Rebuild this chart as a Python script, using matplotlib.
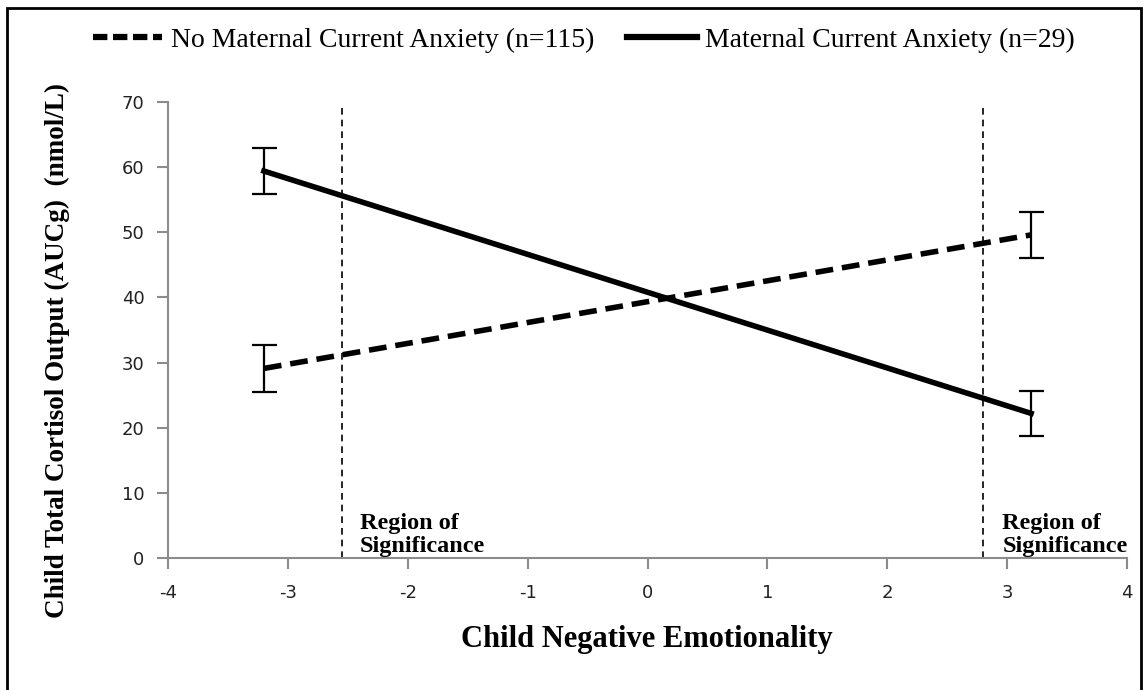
import numpy as np
import matplotlib
matplotlib.use("Agg")
import matplotlib.pyplot as plt
from matplotlib.lines import Line2D
from matplotlib.patches import Rectangle

# values
x_levels = [-3.2, 3.2]
no_anx = [29.1, 49.6]
no_anx_err = [3.6, 3.5]
anx = [59.4, 22.2]
anx_err = [3.5, 3.5]
region_bounds = [-2.55, 2.8]
xticks = [-4, -3, -2, -1, 0, 1, 2, 3, 4]
yticks = [0, 10, 20, 30, 40, 50, 60, 70]
labels = ["No Maternal Current Anxiety (n=115)", "Maternal Current Anxiety (n=29)"]

plt.rcParams["axes.unicode_minus"] = False
serif = "Liberation Serif"
axgray = "#8c8c8c"

fig = plt.figure(figsize=(11.46, 6.9), dpi=100)
ax = fig.add_axes([168/1146, 1-558/690, (1127-168)/1146, (558-102)/690])

ax.errorbar(x_levels, no_anx, yerr=no_anx_err, color="black", lw=4, ls=(0, (3.2, 1.6)),
            capsize=9, elinewidth=1.6, capthick=1.6, dash_capstyle="butt")
ax.errorbar(x_levels, anx, yerr=anx_err, color="black", lw=4, ls="-",
            capsize=9, elinewidth=1.6, capthick=1.6)

for xb in region_bounds:
    ax.plot([xb, xb], [0, 69.6], color="black", lw=1.2, ls=(0, (4, 3)))

ax.text(-2.40, 0.1, "Region of\nSignificance", fontfamily=serif, fontweight="bold",
        fontsize=17.5, va="bottom", ha="left", linespacing=1.15)
ax.text(2.96, 0.1, "Region of\nSignificance", fontfamily=serif, fontweight="bold",
        fontsize=17.5, va="bottom", ha="left", linespacing=1.15)

ax.set_xlim(-4, 4)
ax.set_ylim(0, 70)
ax.set_xticks(xticks)
ax.set_yticks(yticks)
ax.spines["top"].set_visible(False)
ax.spines["right"].set_visible(False)
for s in ["left", "bottom"]:
    ax.spines[s].set_color(axgray)
    ax.spines[s].set_linewidth(1.5)
ax.tick_params(axis="both", colors=axgray, width=1.5, length=8, labelsize=13,
               labelcolor="#222222")
ax.tick_params(axis="x", pad=11)
ax.tick_params(axis="y", pad=9)

fig.text(647/1146, 1-640/690, "Child Negative Emotionality", fontfamily=serif,
         fontweight="bold", fontsize=22, ha="center", va="center")
fig.text(57/1146, 1-350/690, "Child Total Cortisol Output (AUCg)  (nmol/L)", fontfamily=serif,
         fontweight="bold", fontsize=19.5, ha="center", va="center", rotation=90)

handles = [Line2D([], [], color="black", lw=4.5, ls=(0, (2.3, 0.9))),
           Line2D([], [], color="black", lw=4.5, ls="-")]
fig.legend(handles, labels, loc="center", bbox_to_anchor=(584/1146, 1-40/690), ncol=2,
           frameon=False, prop={"family": serif, "size": 20}, handlelength=2.5,
           handletextpad=0.3, columnspacing=1.2)

fig.patches.append(Rectangle((7/1146, -0.1), (1141-7)/1146, 1.1-8/690,
                             transform=fig.transFigure, fill=False, lw=2, color="black"))

fig.savefig("out.png", dpi=100)
